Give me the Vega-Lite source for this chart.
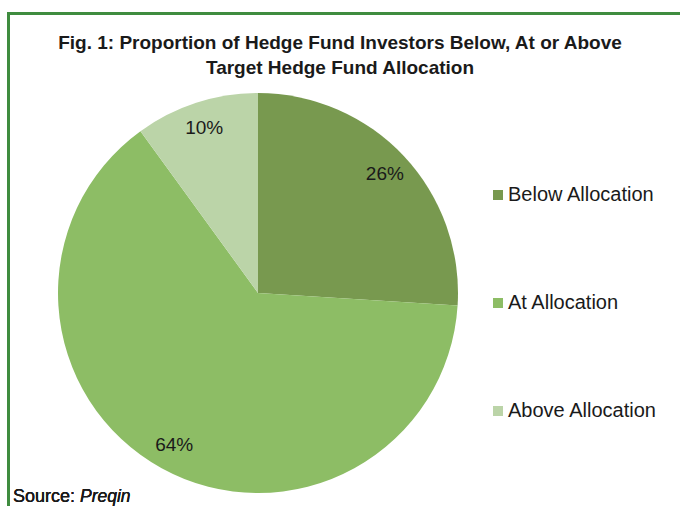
{
  "$schema": "https://vega.github.io/schema/vega-lite/v6.json",
  "width": 672,
  "height": 493,
  "autosize": {"type": "none"},
  "padding": {"left": 8, "top": 13, "right": 0, "bottom": 0},
  "background": "white",
  "view": {"stroke": null, "fill": "white"},
  "title": {
    "text": ["Fig. 1: Proportion of Hedge Fund Investors Below, At or Above", "Target Hedge Fund Allocation"],
    "font": "Liberation Sans",
    "fontSize": 19,
    "fontWeight": "bold",
    "color": "#1a1a1a",
    "anchor": "middle",
    "frame": "group",
    "orient": "top",
    "offset": -68,
    "dx": -4,
    "lineHeight": 25
  },
  "data": {
    "values": [
      {"category": "Below Allocation", "share": 0.26, "idx": 1},
      {"category": "At Allocation", "share": 0.64, "idx": 2},
      {"category": "Above Allocation", "share": 0.10, "idx": 3}
    ]
  },
  "layer": [
    {
      "mark": {"type": "point", "opacity": 0},
      "encoding": {
        "x": {"field": "share", "type": "quantitative", "axis": {"orient": "top", "domainColor": "#3f8c3f", "domainWidth": 3, "domainCap": "square", "ticks": false, "labels": false, "title": null, "grid": false}},
        "y": {"field": "idx", "type": "quantitative", "axis": {"orient": "left", "domainColor": "#3f8c3f", "domainWidth": 3, "domainCap": "square", "ticks": false, "labels": false, "title": null, "grid": false}}
      }
    },
    {
      "mark": {"type": "arc", "outerRadius": 200, "x": 250, "y": 280},
      "encoding": {
        "theta": {"field": "share", "type": "quantitative", "stack": true},
        "order": {"field": "idx", "type": "quantitative"},
        "color": {
          "field": "category",
          "type": "nominal",
          "scale": {"domain": ["Below Allocation", "At Allocation", "Above Allocation"], "range": ["#78994f", "#8dbd65", "#bbd4a8"]},
          "legend": {
            "orient": "none",
            "legendX": 480,
            "legendY": 172,
            "title": null,
            "symbolType": "square",
            "symbolSize": 100,
            "symbolStrokeWidth": 0,
            "labelFontSize": 20,
            "labelFont": "Liberation Sans",
            "labelColor": "#1a1a1a",
            "labelOffset": 0,
            "rowPadding": 88,
            "labelLimit": 300
          }
        }
      }
    },
    {
      "mark": {"type": "text", "radius": 174, "x": 250, "y": 280, "font": "Liberation Sans", "fontSize": 19, "color": "#1a1a1a"},
      "encoding": {
        "theta": {"field": "share", "type": "quantitative", "stack": true},
        "order": {"field": "idx", "type": "quantitative"},
        "text": {"field": "share", "type": "quantitative", "format": ".0%"}
      }
    },
    {
      "mark": {"type": "text", "x": 5, "y": 489, "align": "left", "baseline": "alphabetic", "font": "Liberation Sans", "fontSize": 18, "color": "#1a1a1a"},
      "encoding": {"text": {"datum": "Source:"}}
    },
    {
      "mark": {"type": "text", "x": 72, "y": 489, "align": "left", "baseline": "alphabetic", "font": "Liberation Sans", "fontSize": 17.5, "fontStyle": "italic", "color": "#1a1a1a"},
      "encoding": {"text": {"datum": "Preqin"}}
    }
  ]
}
